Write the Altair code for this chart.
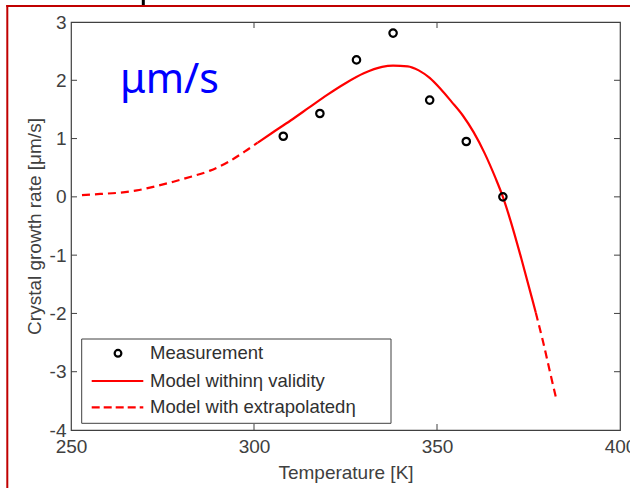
import altair as alt
import pandas as pd

# ---- data ----
meas_T = [308, 318, 328, 338, 348, 358, 368]
meas_v = [1.04, 1.43, 2.35, 2.81, 1.66, 0.95, 0.0]

ext_left_T = [253, 258, 263, 268, 273, 278, 283, 288, 293, 298, 301]
ext_left_v = [0.03, 0.05, 0.07, 0.11, 0.18, 0.26, 0.35, 0.45, 0.60, 0.80, 0.93]

valid_T = [301, 305, 310, 315, 320, 325, 330, 335, 338, 342, 345, 348, 351, 354,
           357, 360, 363, 366, 368, 370, 373, 376, 377]
valid_v = [0.93, 1.10, 1.31, 1.53, 1.75, 1.95, 2.12, 2.23, 2.25, 2.24, 2.17, 2.04,
           1.85, 1.63, 1.40, 1.11, 0.75, 0.32, 0.0, -0.39, -1.05, -1.75, -1.99]

ext_right_T = [377, 379, 381, 382.6]
ext_right_v = [-1.99, -2.49, -3.04, -3.47]

x_tick_vals = [250, 300, 350, 400]
y_tick_vals = [-4, -3, -2, -1, 0, 1, 2, 3]
x_inner_ticks = [300, 350]
y_inner_ticks = [-3, -2, -1, 0, 1, 2]

legend_labels = ["Measurement", "Model withinη validity", "Model with extrapolatedη"]
unit_text = "μm/s"

W, H = 549, 408
FONT = "Liberation Sans"
AX = "#404040"
RED = "#FF0000"

xs = alt.Scale(domain=[250, 400], nice=False, zero=False)
ys = alt.Scale(domain=[-4, 3], nice=False, zero=False)

xaxis = alt.Axis(values=x_tick_vals, ticks=False, domain=False, grid=False,
                 labelFont=FONT, labelFontSize=19, labelColor=AX, labelPadding=7,
                 labelExpr="toString(datum.value)",
                 title="Temperature [K]", titleFont=FONT, titleFontSize=19,
                 titleFontWeight="normal", titleColor=AX, titlePadding=7,
                 labelFlush=False)
yaxis = alt.Axis(values=y_tick_vals, ticks=False, domain=False, grid=False,
                 labelFont=FONT, labelFontSize=19, labelColor=AX, labelPadding=5,
                 labelExpr="toString(datum.value)",
                 title="Crystal growth rate [μm/s]", titleFont=FONT, titleFontSize=19,
                 titleFontWeight="normal", titleColor=AX, titlePadding=5,
                 labelFlush=False)


def X(field):
    return alt.X(f"{field}:Q", scale=xs, axis=xaxis)


def Y(field):
    return alt.Y(f"{field}:Q", scale=ys, axis=yaxis)


df_meas = pd.DataFrame({"T": meas_T, "v": meas_v})
df_el = pd.DataFrame({"T": ext_left_T, "v": ext_left_v})
df_va = pd.DataFrame({"T": valid_T, "v": valid_v})
df_er = pd.DataFrame({"T": ext_right_T, "v": ext_right_v})
df_xt = pd.DataFrame({"t": x_inner_ticks})
df_yt = pd.DataFrame({"t": y_inner_ticks})
one = pd.DataFrame({"a": [0]})

line_el = alt.Chart(df_el).mark_line(color=RED, strokeWidth=2.2, strokeDash=[8, 5],
                                     interpolate="monotone").encode(
    x=X("T"), y=Y("v"), order="T:Q")
line_va = alt.Chart(df_va).mark_line(color=RED, strokeWidth=2.2,
                                     interpolate="monotone").encode(
    x=X("T"), y=Y("v"), order="T:Q")
line_er = alt.Chart(df_er).mark_line(color=RED, strokeWidth=2.2, strokeDash=[8, 5],
                                     interpolate="monotone").encode(
    x=X("T"), y=Y("v"), order="T:Q")
pts = alt.Chart(df_meas).mark_point(shape="circle", filled=False, color="black",
                                    strokeWidth=2.2, size=55, opacity=1).encode(
    x=X("T"), y=Y("v"))

# inward ticks (box style)
xt_bot = alt.Chart(df_xt).mark_rule(color=AX, strokeWidth=1).encode(
    x=X("t"), y=alt.value(H), y2=alt.value(H - 6))
xt_top = alt.Chart(df_xt).mark_rule(color=AX, strokeWidth=1).encode(
    x=X("t"), y=alt.value(0), y2=alt.value(6))
yt_left = alt.Chart(df_yt).mark_rule(color=AX, strokeWidth=1).encode(
    y=Y("t"), x=alt.value(0), x2=alt.value(6))
yt_right = alt.Chart(df_yt).mark_rule(color=AX, strokeWidth=1).encode(
    y=Y("t"), x=alt.value(W), x2=alt.value(W - 6))

# legend (manual)
leg_box = alt.Chart(one).mark_rect(fill="white", stroke=AX, strokeWidth=1).encode(
    x=alt.value(10.7), x2=alt.value(320), y=alt.value(317), y2=alt.value(401.3))
leg_pt = alt.Chart(one).mark_point(shape="circle", filled=False, color="black",
                                   strokeWidth=2.2, size=45, opacity=1).encode(
    x=alt.value(47), y=alt.value(331.3))
leg_l1 = alt.Chart(one).mark_rule(color=RED, strokeWidth=2.2).encode(
    x=alt.value(20.7), x2=alt.value(72.3), y=alt.value(359))
leg_l2 = alt.Chart(one).mark_rule(color=RED, strokeWidth=2.2, strokeDash=[8, 4]).encode(
    x=alt.value(20.7), x2=alt.value(72.3), y=alt.value(385.3))
leg_texts = []
for lab, yy in zip(legend_labels, [331.3, 359, 385.3]):
    leg_texts.append(alt.Chart(one).mark_text(align="left", baseline="middle", font=FONT,
                                              fontSize=18.5, color="#303030").encode(
        x=alt.value(79), y=alt.value(yy), text=alt.value(lab)))

unit = alt.Chart(one).mark_text(align="left", baseline="alphabetic", font="Noto Sans",
                                fontSize=41, color="#0000FF").encode(
    x=alt.value(49), y=alt.value(71.3), text=alt.value(unit_text))

# slide decoration: red frame and small black mark
frame_left = alt.Chart(one).mark_rule(color="#C00000", strokeWidth=2).encode(
    x=alt.value(7.3 - 71), y=alt.value(-17), y2=alt.value(470))
frame_top = alt.Chart(one).mark_rule(color="#C00000", strokeWidth=2).encode(
    y=alt.value(6 - 22), x=alt.value(6.3 - 71), x2=alt.value(570))
black_mark = alt.Chart(one).mark_rule(color="black", strokeWidth=3).encode(
    x=alt.value(143.3 - 71), y=alt.value(-22), y2=alt.value(-17))

chart = alt.layer(
    line_el, line_va, line_er, pts,
    xt_bot, xt_top, yt_left, yt_right,
    leg_box, leg_pt, leg_l1, leg_l2, *leg_texts,
    unit, frame_left, frame_top, black_mark,
).properties(
    width=W, height=H,
    autosize=alt.AutoSizeParams(type="none"),
    padding={"left": 71, "top": 22, "right": 10, "bottom": 58},
    background="white",
).configure_view(stroke=AX, strokeWidth=1.2)

chart.save("out.html", embed_options={"renderer": "svg", "actions": False})
